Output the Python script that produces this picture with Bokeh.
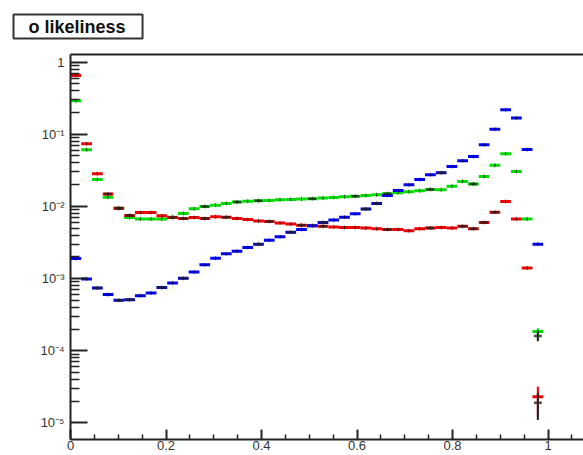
import numpy as np
from bokeh.plotting import figure
from bokeh.models import (LinearAxis, FixedTicker, CustomJSTickFormatter, Title,
                          Range1d, ColumnDataSource)
from bokeh.embed import file_html
from bokeh.resources import INLINE

# ---- data ----
bin_width = 0.0225          # 48 bins over [0, 1.08]
title_text = "o likeliness"
x_ticks = [0, 0.2, 0.4, 0.6, 0.8, 1.0]
y_decades = [-5, -4, -3, -2, -1, 0]

red_vals = [0.65, 0.0736, 0.0283, 0.0149, 0.0094, 0.0075, 0.0082, 0.0082, 0.0074, 0.0070,
            0.0068, 0.0070, 0.0068, 0.0072, 0.0071, 0.0068, 0.0066, 0.0063, 0.0062, 0.0059,
            0.0057, 0.0055, 0.0054, 0.0053, 0.0052, 0.0051, 0.0051, 0.0050, 0.0049, 0.0048,
            0.0048, 0.0046, 0.0049, 0.0050, 0.0051, 0.0050, 0.0053, 0.0049, 0.0060, 0.0083,
            0.0117, 0.0067, 0.0014, 2.3e-5]
green_vals = [0.29, 0.061, 0.0236, 0.0134, 0.0094, 0.0070, 0.0067, 0.0067, 0.0067, 0.0071,
              0.0080, 0.0093, 0.0100, 0.0104, 0.0110, 0.0115, 0.0118, 0.0120, 0.0121, 0.0124,
              0.0125, 0.0127, 0.0128, 0.0131, 0.0133, 0.0136, 0.0138, 0.0141, 0.0145, 0.0150,
              0.0155, 0.0160, 0.0165, 0.0172, 0.0170, 0.0190, 0.0222, 0.0205, 0.0260, 0.0370,
              0.0536, 0.0305, 0.0067, 1.85e-4]
blue_vals = [0.0019, 0.00099, 0.00074, 0.00060, 0.00050, 0.00051, 0.00058, 0.00063, 0.00075, 0.00087,
             0.00101, 0.00123, 0.00155, 0.00192, 0.0022, 0.0024, 0.0027, 0.0030, 0.0034, 0.0038,
             0.0044, 0.0048, 0.0054, 0.0060, 0.0065, 0.0071, 0.0079, 0.0092, 0.0110, 0.0142,
             0.0166, 0.0199, 0.0236, 0.0274, 0.0292, 0.0357, 0.0428, 0.0490, 0.0713, 0.117,
             0.218, 0.167, 0.0614, 0.0030]

# black (second sample) markers where visible: bin index and value
black_bins = [3, 4, 5, 9, 10, 12, 14, 18, 21, 23, 29, 33, 36, 37, 38, 39, 43,
              4, 12, 15, 17, 22, 26, 29, 33, 37, 43,
              2, 4, 5, 8, 10, 17, 20, 23, 27, 28, 34]
black_vals = [0.0149, 0.0094, 0.0075, 0.0070, 0.0068, 0.0068, 0.0071, 0.0062, 0.0055, 0.0053,
              0.0048, 0.0050, 0.0053, 0.0049, 0.0060, 0.0083, 1.9e-5,
              0.0094, 0.0100, 0.0115, 0.0120, 0.0128, 0.0138, 0.0150, 0.0172, 0.0205, 1.6e-4,
              0.00074, 0.00050, 0.00051, 0.00075, 0.00101, 0.0030, 0.0044, 0.0060, 0.0092, 0.0110, 0.0292]

# vertical error bars of the last (low statistics) bin
err_bin = [43, 43, 43, 43]
err_lo = [1.45e-4, 1.2e-5, 1.35e-4, 1.1e-5]
err_hi = [2.05e-4, 3.2e-5, 1.9e-4, 2.6e-5]
err_color = ["#00dd00", "#ee0000", "#222222", "#222222"]

W, H = 583, 455
left_px, top_px, bottom_px = 70, 54, 16
x_end = (W - left_px) / 477.5
y_lo, y_hi = 10 ** -5.229, 10 ** 0.104

p = figure(width=W, height=H, y_axis_type="log", output_backend="svg",
           toolbar_location=None, x_range=Range1d(0, x_end), y_range=Range1d(y_lo, y_hi),
           min_border_left=left_px, min_border_right=0, min_border_top=top_px,
           min_border_bottom=bottom_px,
           title=Title(text=title_text, align="left", offset=-57, standoff=28,
                       vertical_align="top",
                       text_font="Liberation Sans", text_font_style="bold",
                       text_font_size="18px", text_color="#111111",
                       border_line_color="#333333", border_line_width=2,
                       background_fill_color="white", padding=(15, 17, 2, 2)))
p.outline_line_color = None
p.grid.visible = False
p.background_fill_color = "white"
p.border_fill_color = "white"

axis_col = "#222222"
lab_col = "#333333"

# x axis
xa = p.xaxis[0]
minor_x = [round(v, 2) for v in np.arange(0.05, 1.1, 0.05) if round(v, 2) not in x_ticks]
xa.ticker = FixedTicker(ticks=x_ticks, minor_ticks=minor_x)
xa.formatter = CustomJSTickFormatter(code="return (Math.abs(tick) < 1e-9) ? '0' : (Math.abs(tick-1) < 1e-9 ? '1' : tick.toFixed(1));")
xa.major_tick_in = 10
xa.major_tick_out = 0
xa.minor_tick_in = 5
xa.minor_tick_out = 0
xa.axis_line_width = 2
xa.axis_line_color = axis_col
xa.major_tick_line_color = axis_col
xa.minor_tick_line_color = axis_col
xa.major_tick_line_width = 2
xa.minor_tick_line_width = 1.5
xa.major_label_standoff = 1
xa.major_label_text_font = "Liberation Sans"
xa.major_label_text_font_size = "13px"
xa.major_label_text_color = lab_col

# y axis
ya = p.yaxis[0]
major_y = [10.0 ** d for d in y_decades]
minor_y = [m * 10.0 ** d for d in y_decades for m in range(2, 10) if m * 10.0 ** d < y_hi]
ya.ticker = FixedTicker(ticks=major_y, minor_ticks=minor_y)
ya.formatter = CustomJSTickFormatter(code="""
const e = Math.round(Math.log10(tick));
if (e === 0) return '1';
const sup = {'-': '\u207b', '0': '\u2070', '1': '\u00b9', '2': '\u00b2', '3': '\u00b3',
             '4': '\u2074', '5': '\u2075', '6': '\u2076', '7': '\u2077', '8': '\u2078', '9': '\u2079'};
return '10' + String(e).split('').map(c => sup[c]).join('');
""")
ya.major_tick_in = 17
ya.major_tick_out = 0
ya.minor_tick_in = 9
ya.minor_tick_out = 0
ya.axis_line_width = 2
ya.axis_line_color = axis_col
ya.major_tick_line_color = axis_col
ya.minor_tick_line_color = axis_col
ya.major_tick_line_width = 2
ya.minor_tick_line_width = 1.5
ya.major_label_standoff = 6
ya.major_label_text_font = "Liberation Sans"
ya.major_label_text_font_size = "13px"
ya.major_label_text_color = lab_col

# top frame line
top_axis = LinearAxis(ticker=FixedTicker(ticks=[]), major_tick_in=0, major_tick_out=0,
                      minor_tick_in=0, minor_tick_out=0, axis_line_width=2,
                      axis_line_color=axis_col, major_label_text_alpha=0)
p.add_layout(top_axis, "above")


def draw(vals, color):
    k = np.arange(len(vals))
    src = ColumnDataSource(dict(x0=k * bin_width, x1=(k + 1) * bin_width,
                                xc=(k + 0.5) * bin_width, y=vals))
    p.segment(x0="x0", x1="x1", y0="y", y1="y", source=src, line_color=color, line_width=3)
    p.scatter(x="xc", y="y", source=src, marker="dash", angle=np.pi / 2, size=4,
              line_color="#111111", line_width=1, line_alpha=0.7)


draw(green_vals, "#00dd00")
draw(red_vals, "#ee0000")
draw(blue_vals, "#0000ee")

bk = np.array(black_bins)
p.segment(x0=bk * bin_width + 0.003, x1=(bk + 1) * bin_width - 0.003, y0=black_vals, y1=black_vals,
          line_color="#222222", line_width=2.5, line_alpha=0.8)

ek = np.array(err_bin)
p.segment(x0=(ek + 0.5) * bin_width, x1=(ek + 0.5) * bin_width, y0=err_lo, y1=err_hi,
          line_color=err_color, line_width=2)

open("out.html", "w").write(file_html(p, INLINE))
